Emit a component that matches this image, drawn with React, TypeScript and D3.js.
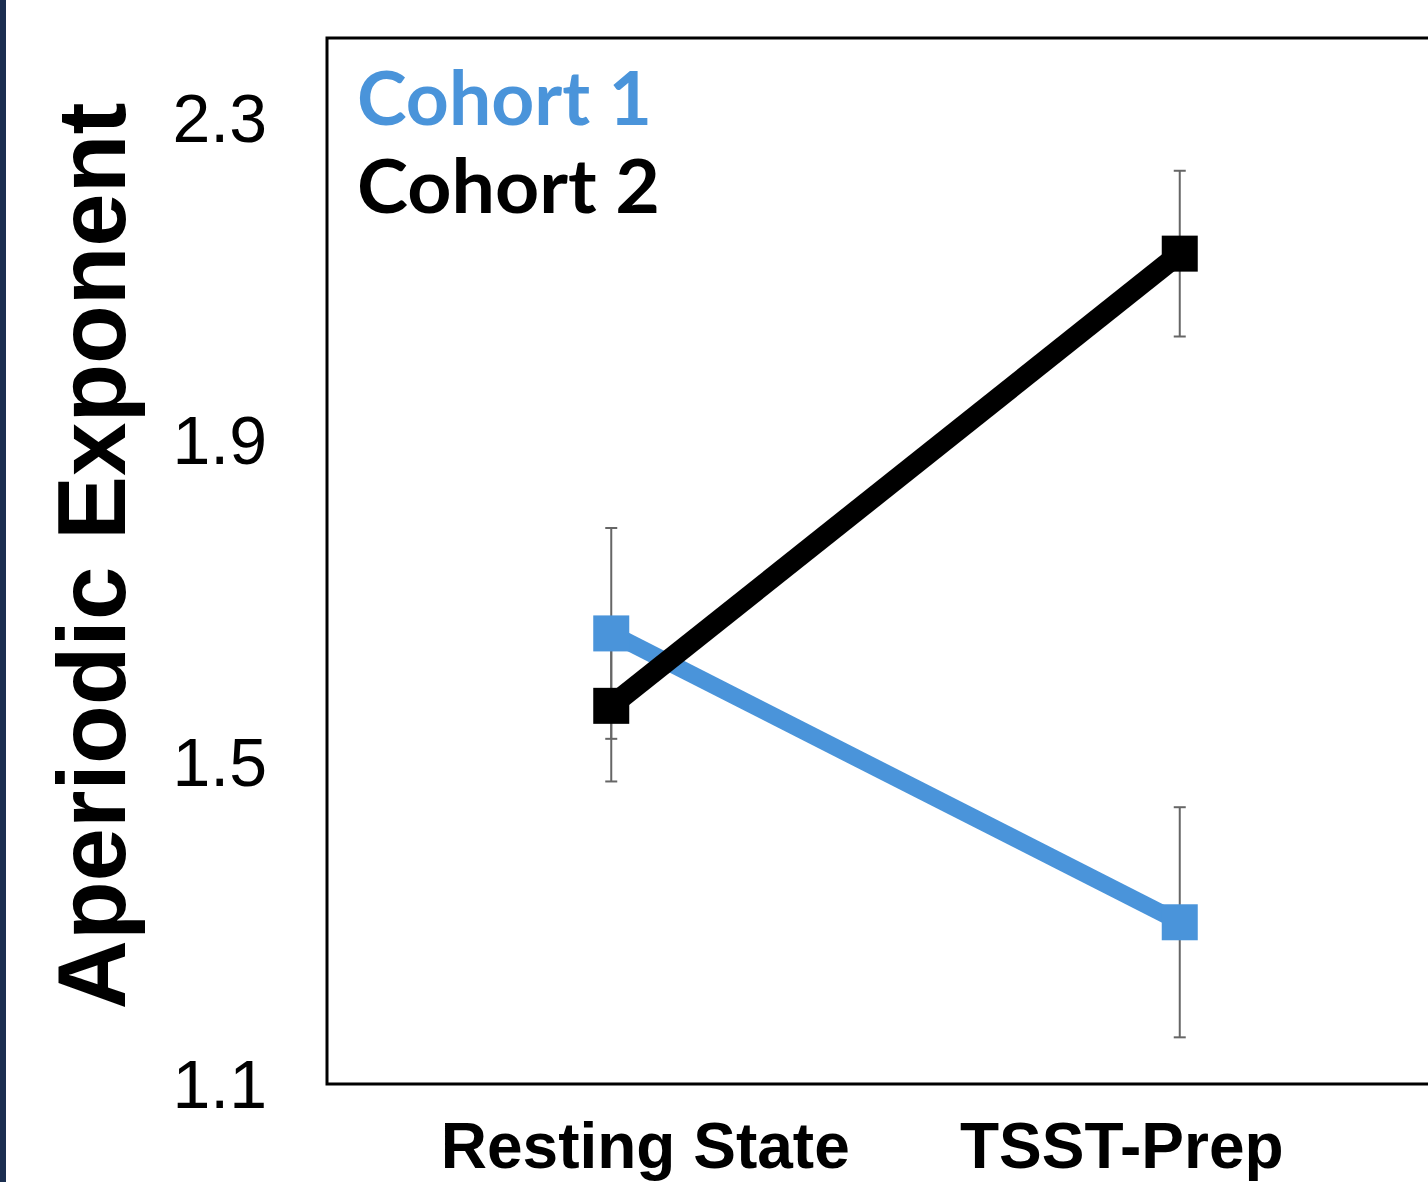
import React from "react";
import * as d3 from "d3";

const categories = ["Resting State", "TSST-Prep"];
const seriesNames = ["Cohort 1", "Cohort 2"];
const cohort1Values = [1.66, 1.301];
const cohort1Errors = [0.131, 0.143];
const cohort2Values = [1.57, 2.132];
const cohort2Errors = [0.094, 0.103];
const yTicks = [1.1, 1.5, 1.9, 2.3];
const yTitle = "Aperiodic Exponent";

const W = 1428;
const H = 1182;
const frameLeft = 327;
const frameTop = 38;
const frameBottom = 1084;
const frameRight = 1464;

const BLUE = "#4a94da";
const BLACK = "#000000";

export default function App() {
  const x = d3.scalePoint<string>().domain(categories).range([frameLeft, frameRight]).padding(0.5);
  const y = d3.scaleLinear().domain([1.1, 2.4]).range([frameBottom, frameTop]);

  const series = [
    { name: seriesNames[0], values: cohort1Values, errors: cohort1Errors, color: BLUE, width: 17 },
    { name: seriesNames[1], values: cohort2Values, errors: cohort2Errors, color: BLACK, width: 21 },
  ];

  const line = d3
    .line<number>()
    .x((_, i) => x(categories[i]) as number)
    .y((d) => y(d));

  const labelOffsets = [34, -58];
  const markerSize = 36;
  const capW = 12;

  return (
    <svg
      width={W}
      height={H}
      style={{ position: "absolute", left: 0, top: 0, display: "block", background: "#fff" }}
    >
      <rect x={0} y={0} width={W} height={H} fill="#ffffff" />
      <rect x={0} y={0} width={6} height={H} fill="#1b2e50" />

      {/* frame */}
      <path
        d={`M${frameRight},${frameTop}H${frameLeft}V${frameBottom}H${frameRight}`}
        fill="none"
        stroke="#000"
        strokeWidth={3}
      />

      {/* y tick labels */}
      {yTicks.map((t) => (
        <text
          key={t}
          x={267}
          y={y(t)}
          dy="0.35em"
          textAnchor="end"
          fontFamily="'Liberation Sans', Arial, sans-serif"
          fontSize={68}
          fill="#000"
        >
          {d3.format(".1f")(t)}
        </text>
      ))}

      {/* y title */}
      <text
        transform={`translate(125,556) rotate(-90)`}
        textAnchor="middle"
        fontFamily="'Liberation Sans', Arial, sans-serif"
        fontWeight="bold"
        fontSize={96}
        fill="#000"
      >
        {yTitle}
      </text>

      {/* x labels */}
      {categories.map((c, i) => (
        <text
          key={c}
          x={(x(c) as number) + labelOffsets[i]}
          y={1168}
          textAnchor="middle"
          fontFamily="'Liberation Sans', Arial, sans-serif"
          fontWeight="bold"
          fontSize={64}
          fill="#000"
        >
          {c}
        </text>
      ))}

      {/* error bars */}
      {series.map((s) =>
        s.values.map((v, i) => {
          const cx = x(categories[i]) as number;
          const y1 = y(v + s.errors[i]);
          const y2 = y(v - s.errors[i]);
          return (
            <g key={s.name + i} stroke="#666" strokeWidth={2}>
              <line x1={cx} x2={cx} y1={y1} y2={y2} />
              <line x1={cx - capW / 2} x2={cx + capW / 2} y1={y1} y2={y1} />
              <line x1={cx - capW / 2} x2={cx + capW / 2} y1={y2} y2={y2} />
            </g>
          );
        })
      )}

      {/* lines */}
      {series.map((s) => (
        <path
          key={s.name}
          d={line(s.values) || ""}
          fill="none"
          stroke={s.color}
          strokeWidth={s.width}
        />
      ))}

      {/* markers */}
      {series.map((s) =>
        s.values.map((v, i) => (
          <rect
            key={s.name + "m" + i}
            x={(x(categories[i]) as number) - markerSize / 2}
            y={y(v) - markerSize / 2}
            width={markerSize}
            height={markerSize}
            fill={s.color}
          />
        ))
      )}

      {/* legend */}
      {series.map((s, i) => (
        <text
          key={s.name + "leg"}
          x={357}
          y={125 + i * 88}
          fontFamily="Lato, 'DejaVu Sans', sans-serif"
          fontWeight="bold"
          fontSize={74}
          fill={s.color}
          textLength={i === 0 ? 295 : 303}
          lengthAdjust="spacingAndGlyphs"
        >
          {s.name}
        </text>
      ))}
    </svg>
  );
}
